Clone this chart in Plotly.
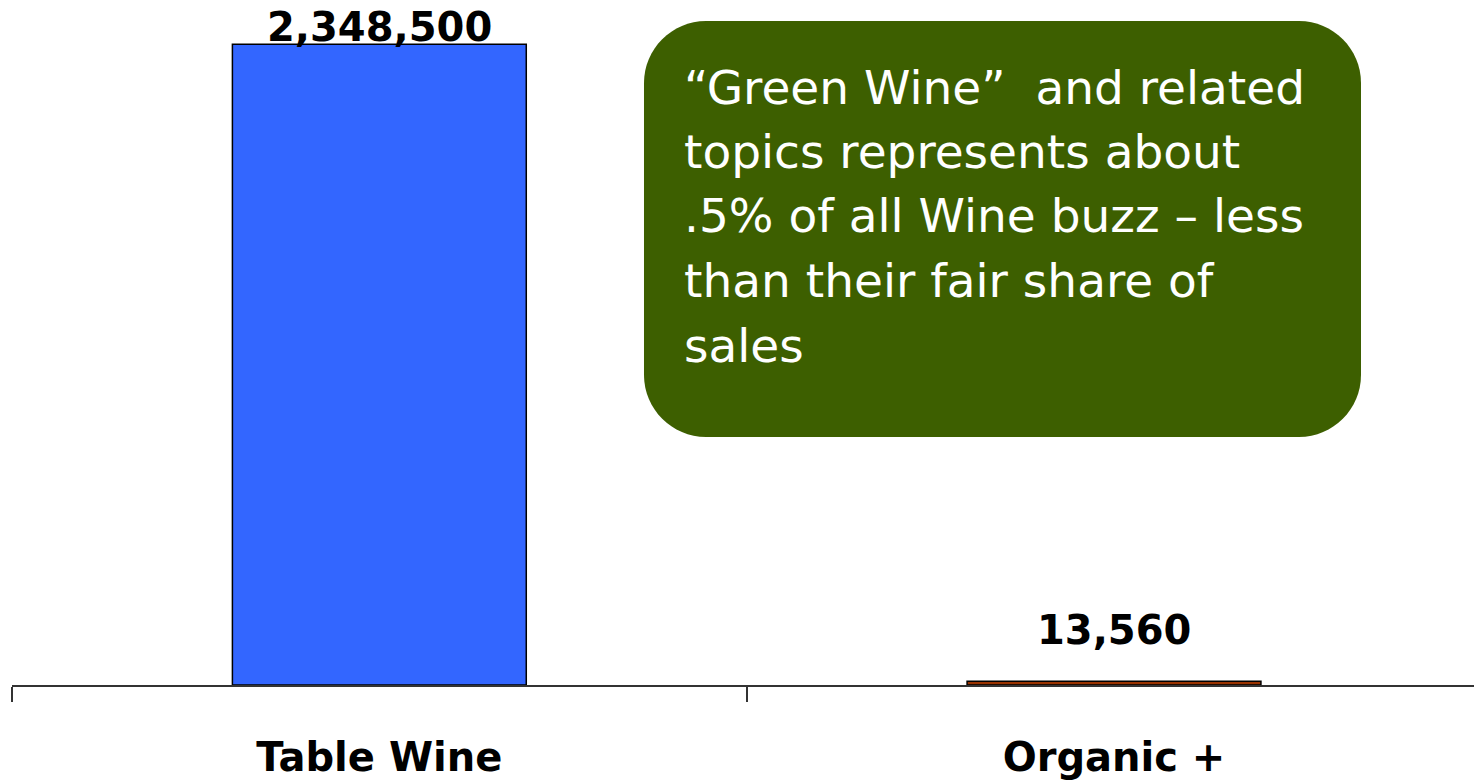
import plotly.graph_objects as go

categories = ["Table Wine", "Organic +"]
values = [2348500, 13560]
value_labels = ["2,348,500", "13,560"]
bar_colors = ["#3366FF", "#993300"]
callout_lines = ["\u201cGreen Wine\u201d  and related", "topics represents about",
                 ".5% of all Wine buzz \u2013 less", "than their fair share of", "sales"]

W, H = 1474, 781
ML, MR, MT, MB = 12, 0, 3, 96
PW, PH = W - ML - MR, H - MT - MB

def px_x(p):
    return (p - ML) / PW

def px_y(p):
    return (H - MB - p) / PH

fig = go.Figure()
fig.add_trace(go.Bar(
    x=categories, y=values, width=0.4,
    marker=dict(color=bar_colors, line=dict(color="black", width=1.5)),
    hoverinfo="skip", showlegend=False,
))

label_shift = [-8, 26]
for c, v, t, s in zip(categories, values, value_labels, label_shift):
    fig.add_annotation(x=c, y=v, text=t, showarrow=False, yanchor="bottom",
                       yshift=s, font=dict(family="DejaVu Sans", size=40, color="black", weight="bold"))

# rounded callout box
x0, x1, y0, y1, r = 644, 1361, 21, 437, 62
k = 0.45
def P(x, y):
    return f"{px_x(x):.5f},{px_y(y):.5f}"
path = (f"M {P(x0 + r, y0)} L {P(x1 - r, y0)} "
        f"C {P(x1 - r * k, y0)} {P(x1, y0 + r * k)} {P(x1, y0 + r)} "
        f"L {P(x1, y1 - r)} "
        f"C {P(x1, y1 - r * k)} {P(x1 - r * k, y1)} {P(x1 - r, y1)} "
        f"L {P(x0 + r, y1)} "
        f"C {P(x0 + r * k, y1)} {P(x0, y1 - r * k)} {P(x0, y1 - r)} "
        f"L {P(x0, y0 + r)} "
        f"C {P(x0, y0 + r * k)} {P(x0 + r * k, y0)} {P(x0 + r, y0)} Z")
fig.add_shape(type="path", path=path, xref="paper", yref="paper",
              fillcolor="#3D5F00", line=dict(width=0), layer="above")
line_gap = 64.5
for i, line in enumerate(callout_lines):
    fig.add_annotation(xref="paper", yref="paper", x=px_x(682), y=px_y(87 + i * line_gap),
                       xanchor="left", yanchor="middle", align="left", showarrow=False,
                       text=line,
                       font=dict(family="DejaVu Sans", size=47, color="white"))

fig.update_layout(
    width=W, height=H, margin=dict(l=ML, r=MR, t=MT, b=MB),
    paper_bgcolor="white", plot_bgcolor="white", bargap=0.6,
    xaxis=dict(type="category", range=[-0.5, 1.49], tickson="boundaries",
               ticks="outside", ticklen=15, tickwidth=1.5, tickcolor="#333",
               showline=True, linecolor="#333", linewidth=1.5, showgrid=False,
               ticklabelstandoff=36, automargin=False,
               tickfont=dict(family="DejaVu Sans", size=40, color="black", weight="bold")),
    yaxis=dict(range=[0, 2500000], visible=False, showgrid=False, zeroline=False),
)
fig.write_html("out.html")
